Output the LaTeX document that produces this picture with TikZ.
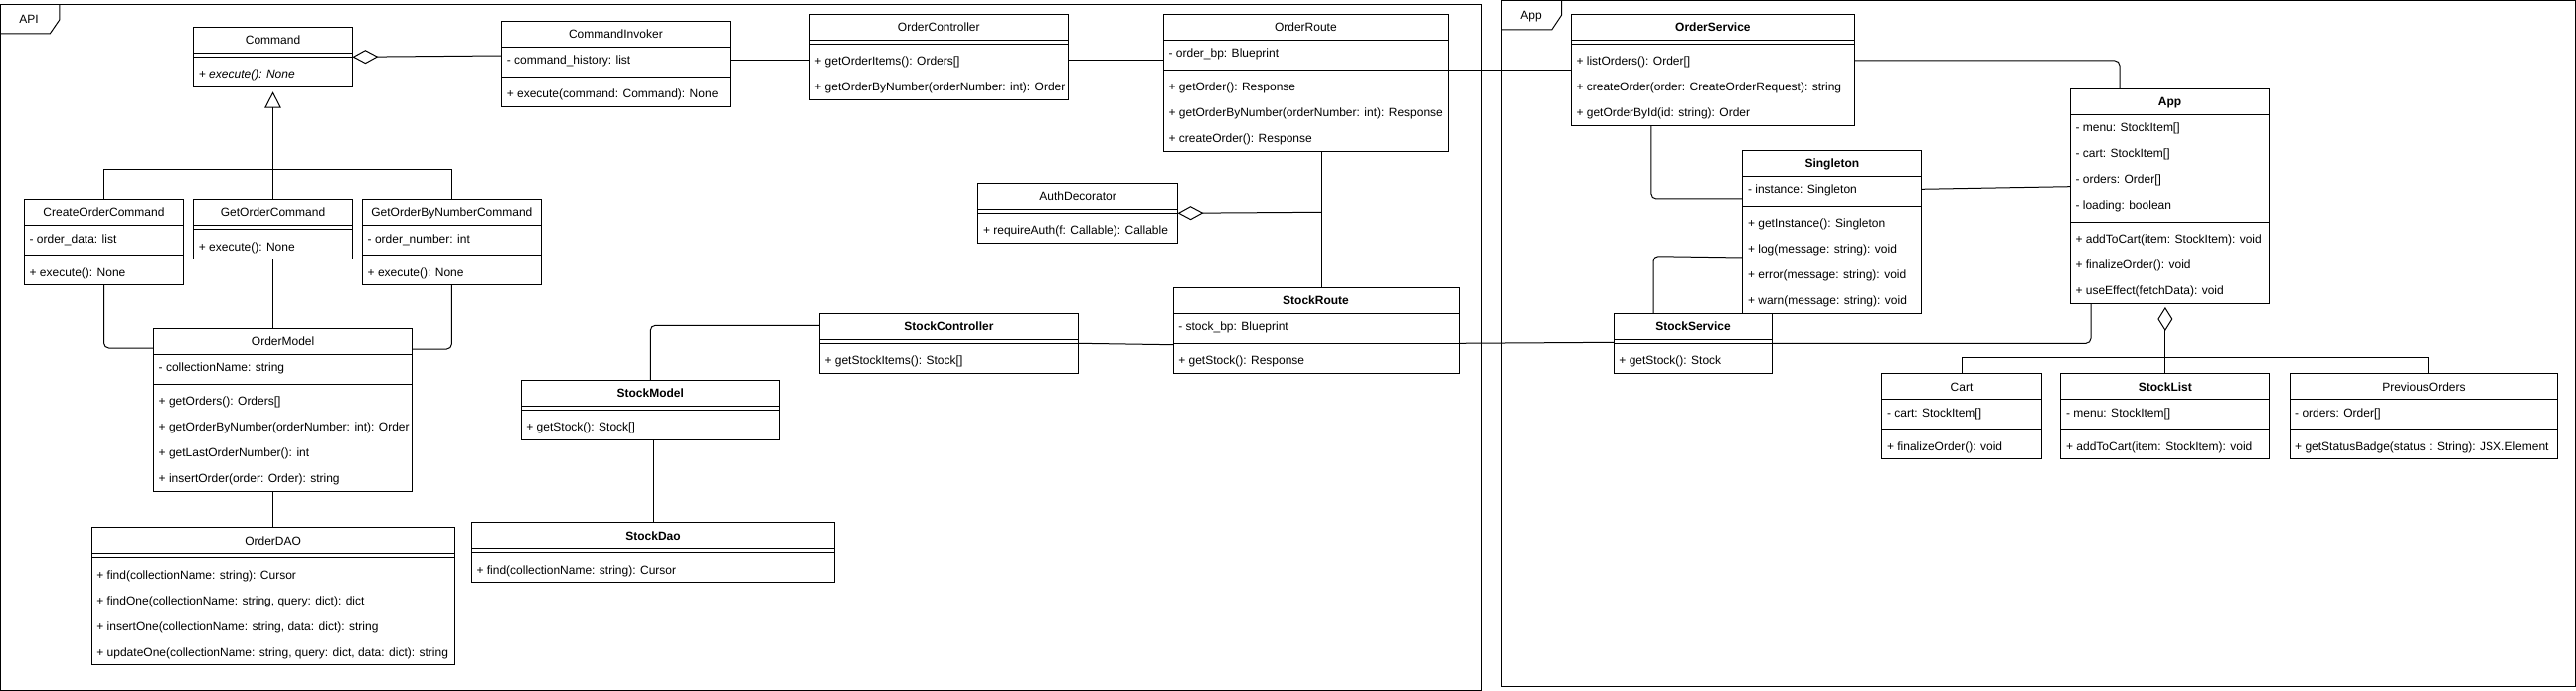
\documentclass[tikz,border=0pt]{standalone}
\usepackage{fontspec}
\setmainfont{Liberation Sans}
\usetikzlibrary{arrows.meta,calc}

\tikzset{
  clsbox/.style={draw, line width=1pt, fill=white, rectangle, inner sep=0pt, outer sep=0pt},
  sepline/.style={line width=1pt},
  titletxt/.style={inner sep=0pt, text height=8.6pt, text depth=0pt, font=\fontsize{12pt}{14pt}\selectfont},
  rowtxt/.style={anchor=west, inner sep=0pt, text height=8.6pt, text depth=0pt, font=\fontsize{12pt}{14pt}\selectfont},
  conn/.style={line width=1pt},
  rconn/.style={line width=1pt, rounded corners=5pt},
  framebox/.style={line width=1pt},
  framelbl/.style={inner sep=0pt, text height=8.6pt, text depth=0pt, font=\fontsize{12pt}{14pt}\selectfont},
  aggtip/.style={-{Diamond[open,length=26pt,width=14pt]}},
  inhtip/.style={-{Triangle[open,length=16.4pt,width=16.6pt]}}
}

% #1 name, #2 x, #3 y, #4 width, #5 n attrs, #6 n methods, #7 title, #8 attrs, #9 methods
\newcommand{\umlclass}[9]{%
  \pgfmathsetmacro{\uhgt}{26+26*#5+8+26*#6}%
  \pgfmathsetmacro{\udiv}{26+26*#5+4}%
  \node[clsbox, minimum width=#4pt, minimum height=\uhgt pt, anchor=north west] (#1) at (#2,#3) {};
  \node[titletxt] at ($(#1.north)+(0,13)$) {#7};
  \draw[sepline] ($(#1.north west)+(0,26)$) -- ($(#1.north east)+(0,26)$);
  \draw[sepline] ($(#1.north west)+(0,\udiv)$) -- ($(#1.north east)+(0,\udiv)$);
  \ifnum#5>0
    \foreach \t [count=\i] in {#8} {\node[rowtxt] at ($(#1.north west)+(5,{26*\i+13})$) {\t};}
  \fi
  \foreach \t [count=\i] in {#9} {\node[rowtxt] at ($(#1.north west)+(5,{26*#5+26*\i+21})$) {\t};}
}

\begin{document}
\begin{tikzpicture}[x=1pt,y=-1pt]
\useasboundingbox (0,0) rectangle (2591,695);

% frames
\draw[framebox] (0.5,4.3) rectangle (1490.3,694);
\draw[framebox] (0.5,34) -- (50.2,34) -- (59.8,20) -- (59.8,4.3);
\node[framelbl] (apilbl) at (29,19) {API};
\draw[framebox] (1510.3,0.6) rectangle (2590.3,690.3);
\draw[framebox] (1510.3,30) -- (1560.7,30) -- (1570.7,15) -- (1570.7,0.6);
\node[framelbl] (applbl) at (1540,15) {App};

% API classes
\umlclass{cmd}{194.7}{27.3}{159.7}{0}{1}{Command}{}{{\itshape + execute(): None}}
\umlclass{ci}{504.6}{21.7}{229.6}{1}{1}{CommandInvoker}{{- command\_history: list}}{{+ execute(command: Command): None}}
\umlclass{coc}{24.4}{200.7}{160.2}{1}{1}{CreateOrderCommand}{{- order\_data: list}}{{+ execute(): None}}
\umlclass{goc}{194.7}{200.7}{159.7}{0}{1}{GetOrderCommand}{}{{+ execute(): None}}
\umlclass{gbn}{364.5}{200.7}{179.8}{1}{1}{GetOrderByNumberCommand}{{- order\_number: int}}{{+ execute(): None}}
\umlclass{om}{154.5}{330.3}{260.2}{1}{4}{OrderModel}{{- collectionName: string}}{{+ getOrders(): Orders[]},{+ getOrderByNumber(orderNumber: int): Order},{+ getLastOrderNumber(): int},{+ insertOrder(order: Order): string}}
\umlclass{od}{92.2}{530.7}{364.8}{0}{4}{OrderDAO}{}{{+ find(collectionName: string): Cursor},{+ findOne(collectionName: string, query: dict): dict},{+ insertOne(collectionName: string, data: dict): string},{+ updateOne(collectionName: string, query: dict, data: dict): string}}
\umlclass{sm}{524.2}{382.3}{260.2}{0}{1}{\bfseries StockModel}{}{{+ getStock(): Stock[]}}
\umlclass{sd}{474.3}{525.7}{365.4}{0}{1}{\bfseries StockDao}{}{{+ find(collectionName: string): Cursor}}
\umlclass{oc}{814.2}{14.3}{260.2}{0}{2}{OrderController}{}{{+ getOrderItems(): Orders[]},{+ getOrderByNumber(orderNumber: int): Order}}
\umlclass{ort}{1170.4}{14.3}{286}{1}{3}{OrderRoute}{{- order\_bp: Blueprint}}{{+ getOrder(): Response},{+ getOrderByNumber(orderNumber: int): Response},{+ createOrder(): Response}}
\umlclass{ad}{983.8}{184.3}{200.7}{0}{1}{AuthDecorator}{}{{+ requireAuth(f: Callable): Callable}}
\umlclass{sc}{824.3}{315.3}{260.3}{0}{1}{\bfseries StockController}{}{{+ getStockItems(): Stock[]}}
\umlclass{sr}{1180.1}{289.3}{286.9}{1}{1}{\bfseries StockRoute}{{- stock\_bp: Blueprint}}{{+ getStock(): Response}}

% App classes
\umlclass{os}{1580.3}{14.3}{285.2}{0}{3}{\bfseries OrderService}{}{{+ listOrders(): Order[]},{+ createOrder(order: CreateOrderRequest): string},{+ getOrderById(id: string): Order}}
\umlclass{st}{1752.8}{151.3}{180.1}{1}{4}{\bfseries Singleton}{{- instance: Singleton}}{{+ getInstance(): Singleton},{+ log(message: string): void},{+ error(message: string): void},{+ warn(message: string): void}}
\umlclass{ss}{1623.2}{315.3}{159.7}{0}{1}{\bfseries StockService}{}{{+ getStock(): Stock}}
\umlclass{app}{2082.3}{89.3}{200.6}{4}{3}{\bfseries App}{{- menu: StockItem[]},{- cart: StockItem[]},{- orders: Order[]},{- loading: boolean}}{{+ addToCart(item: StockItem): void},{+ finalizeOrder(): void},{+ useEffect(fetchData): void}}
\umlclass{cart}{1892.8}{375.7}{160.5}{1}{1}{Cart}{{- cart: StockItem[]}}{{+ finalizeOrder(): void}}
\umlclass{sl}{2072.9}{375.7}{209.9}{1}{1}{\bfseries StockList}{{- menu: StockItem[]}}{{+ addToCart(item: StockItem): void}}
\umlclass{po}{2303}{375.7}{269.9}{1}{1}{PreviousOrders}{{- orders: Order[]}}{{+ getStatusBadge(status : String): JSX.Element}}

% API connectors
\draw[conn, aggtip] ($(ci.north west)+(0,34.3)$) -- ($(cmd.north east)+(0,30)$);
\draw[conn] ($(ci.north east)+(0,39.3)$) -- ($(oc.north west)+(0,46.7)$);
\draw[conn] ($(oc.north east)+(0,46.7)$) -- ($(ort.north west)+(0,46.7)$);
\draw[conn] ($(ort.north east)+(0,56)$) -- ($(os.north west)+(0,56)$);
\coordinate (orb) at ($(ort.south west)+(159,0)$);
\draw[conn] (orb) -- (orb |- sr.north);
\coordinate (adj) at ($(orb)+(0,61)$);
\draw[conn, aggtip] (adj) -- ($(ad.north east)+(0,30)$);
\draw[conn] ($(sc.north east)+(0,30)$) -- ($(sr.north west)+(0,57.4)$);
\draw[conn] ($(sr.north east)+(0,56)$) -- ($(ss.north west)+(0,29)$);
\draw[rconn] (sm.north) |- ($(sc.north west)+(0,12)$);
\draw[conn] (sd.north) -- (sd.north |- sm.south);
\draw[conn] (od.north) -- (od.north |- om.south);
\draw[conn] (goc.south) -- (goc.south |- om.north);
\draw[rconn] (coc.south) |- ($(om.north west)+(0,19.7)$);
\draw[rconn] (gbn.south) |- ($(om.north east)+(0,20.7)$);
\draw[conn] (coc.north) -- ++(0,-30) -| (gbn.north);
\draw[conn, inhtip] (goc.north) -- ($(cmd.south)+(0,5)$);

% App connectors
\draw[rconn] ($(os.north east)+(0,46.7)$) -| ($(app.north west)+(49.7,0)$);
\draw[rconn] ($(os.south west)+(80.6,0)$) |- ($(st.north west)+(0,48.7)$);
\draw[conn] ($(st.north east)+(0,39)$) -- ($(app.north west)+(0,98.4)$);
\draw[rconn] ($(ss.north west)+(39.8,0)$) -- ++(0,-57.6) -- ($(st.north west)+(0,107.7)$);
\draw[rconn] ($(ss.north east)+(0,30)$) -| ($(app.south west)+(20.7,0)$);
\coordinate (apb) at (sl.north |- app.south);
\draw[conn, -{Diamond[open,length=24pt,width=15pt]}] (sl.north) -- ($(apb)+(0,3.7)$);
\draw[conn] (cart.north) -- ++(0,-16.4) -| ($(po.north)+(5,0)$);
\end{tikzpicture}
\end{document}
